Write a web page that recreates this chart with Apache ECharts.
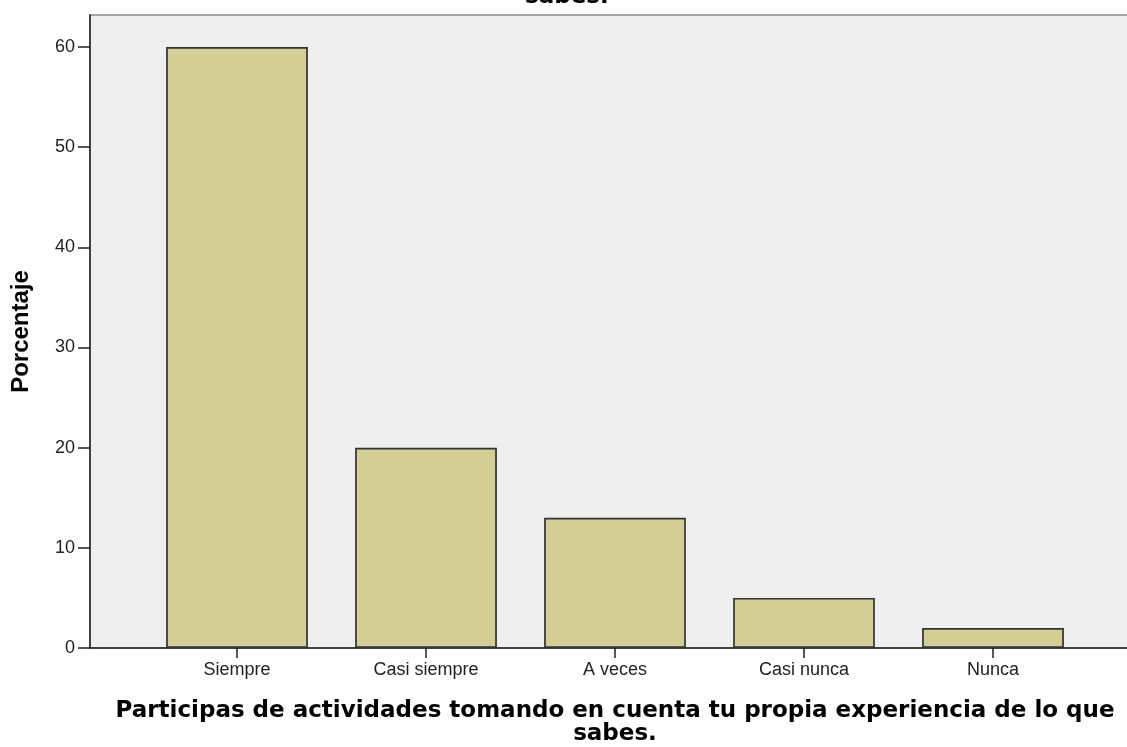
<!DOCTYPE html>
<html>
<head>
<meta charset="utf-8">
<script src="https://cdn.jsdelivr.net/npm/echarts@6/dist/echarts.min.js"></script>
<style>html,body{margin:0;padding:0;background:#fff;}#c{width:1127px;height:747px;}</style>
</head>
<body>
<div id="c"></div>
<script>
const categories = ['Siempre', 'Casi siempre', 'A veces', 'Casi nunca', 'Nunca'];
const percentages = [60, 20, 13, 5, 2];
const yTicks = [0, 10, 20, 30, 40, 50, 60];
const xTitle = 'Participas de actividades tomando en cuenta tu propia experiencia de lo que\nsabes.';
const yTitle = 'Porcentaje';
const topTitleTail = 'sabes.';

const chart = echarts.init(document.getElementById('c'), null, {renderer: 'canvas'});
const YMAX = 63.2;
chart.setOption({
  animation: false,
  backgroundColor: '#ffffff',
  graphic: [{
    type: 'text', x: 525, y: -3,
    style: {text: topTitleTail, font: 'bold 23px "DejaVu Sans"', fill: '#000', verticalAlign: 'middle', align: 'left'}
  }],
  grid: [
    {left: 90, top: 15, width: 1050, height: 633, outerBoundsMode: 'none', containLabel: false,
     show: true, backgroundColor: '#efefef', borderColor: '#8a8a8a', borderWidth: 1.5},
    {left: 142.5, top: 15, width: 945, height: 633, outerBoundsMode: 'none', containLabel: false}
  ],
  xAxis: [
    {gridIndex: 0, type: 'value', min: 0, max: 1,
     axisLine: {show: true, lineStyle: {color: '#222', width: 1.5}},
     axisTick: {show: false}, axisLabel: {show: false}, splitLine: {show: false},
     name: xTitle, nameLocation: 'middle', nameGap: 52,
     nameTextStyle: {fontFamily: 'DejaVu Sans', fontWeight: 'bold', fontSize: 23, color: '#000', lineHeight: 23}},
    {gridIndex: 1, type: 'category', data: categories,
     axisLine: {show: false},
     axisTick: {show: true, alignWithLabel: true, length: 10, lineStyle: {color: '#222', width: 1.5}},
     axisLabel: {fontFamily: 'Liberation Sans', fontSize: 18, color: '#222', margin: 13},
     splitLine: {show: false}}
  ],
  yAxis: [
    {gridIndex: 0, type: 'value', min: 0, max: YMAX, interval: 10,
     axisLine: {show: true, lineStyle: {color: '#222', width: 1.5}},
     axisTick: {show: true, length: 12, customValues: yTicks, lineStyle: {color: '#222', width: 1.5}},
     axisLabel: {fontFamily: 'Liberation Sans', fontSize: 18, color: '#222', margin: 15, customValues: yTicks},
     splitLine: {show: false},
     name: yTitle, nameLocation: 'middle', nameGap: 57,
     nameTextStyle: {fontFamily: 'Liberation Sans', fontWeight: 'bold', fontSize: 24, color: '#000'}},
    {gridIndex: 1, type: 'value', min: 0, max: YMAX, show: false, splitLine: {show: false}}
  ],
  series: [{
    type: 'bar', xAxisIndex: 1, yAxisIndex: 1,
    data: percentages, barCategoryGap: '25%',
    itemStyle: {color: '#d3cd96', borderColor: '#333', borderWidth: 1.7}
  }]
});
</script>
</body>
</html>
